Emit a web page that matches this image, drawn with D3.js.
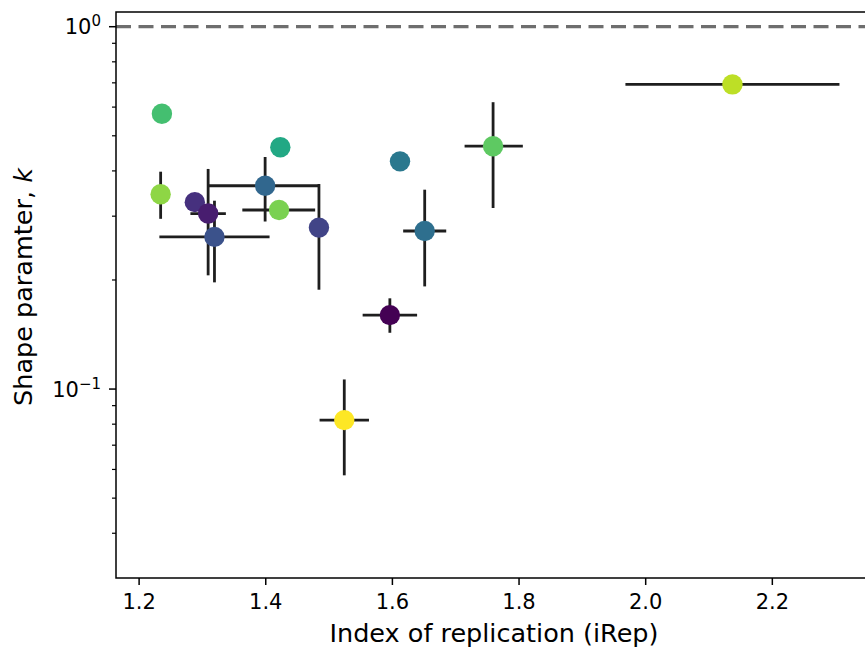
<!DOCTYPE html>
<html>
<head>
  <meta charset="utf-8">
  <script src="https://d3js.org/d3.v7.min.js"></script>
  <style>
    body { margin: 0; background: #fff; }
    text { font-family: "DejaVu Sans", sans-serif; fill: #000; }
  </style>
</head>
<body>
<script>
  "use strict";
  // index of replication (x) with error range, null = no bar
  var iRep   = [1.236, 1.234, 1.288, 1.309, 1.319, 1.399, 1.421, 1.423, 1.484, 1.596, 1.524, 1.612, 1.651, 1.759, 2.137];
  var iRepLo = [null,  null,  null,  1.281, 1.232, 1.309, 1.363, null,  null,  1.553, 1.485, null,  1.617, 1.714, 1.968];
  var iRepHi = [null,  null,  null,  1.337, 1.406, 1.484, 1.478, null,  null,  1.639, 1.563, null,  1.685, 1.806, 2.306];
  // shape parameter k (y, log) with error range
  var shapeK = [0.575, 0.345, 0.328, 0.305, 0.263, 0.364, 0.312, 0.465, 0.279, 0.160, 0.0821, 0.425, 0.273, 0.468, 0.693];
  var kLo    = [null,  0.295, null,  0.206, 0.197, 0.290, null,  null,  0.188, 0.143, 0.0578, null,  0.192, 0.316, null];
  var kHi    = [null,  0.398, null,  0.405, 0.331, 0.437, null,  null,  0.368, 0.178, 0.1063, null,  0.355, 0.619, null];
  // colour value for each point (viridis)
  var colourVal = [0.70, 0.83, 0.14, 0.08, 0.25, 0.33, 0.80, 0.60, 0.20, 0.0, 1.0, 0.40, 0.36, 0.75, 0.90];

  var xTicks = [1.2, 1.4, 1.6, 1.8, 2.0, 2.2];

  function drawChart() {
    var W = 865, H = 650;
    var pLeft = 116, pRight = 872, pTop = 12, pBottom = 578;

    var svg = d3.select("body").append("svg")
        .attr("width", W)
        .attr("height", H);

    var x = d3.scaleLinear().domain([1.1635, 2.3574]).range([pLeft, pRight]);
    var y = d3.scaleLog().domain([0.0301, 1.098]).range([pBottom, pTop]);

    // reference line at k = 1
    svg.append("line")
        .attr("x1", pLeft).attr("x2", pRight)
        .attr("y1", y(1)).attr("y2", y(1))
        .attr("stroke", "#6e6e6e")
        .attr("stroke-width", 3.2)
        .attr("stroke-dasharray", "15,7.5");

    var pts = iRep.map(function(d, i) { return i; });

    var eb = svg.append("g").attr("stroke", "#1e1e1e").attr("stroke-width", 2.8);
    eb.selectAll(".hbar")
        .data(pts.filter(function(i) { return iRepLo[i] != null; }))
        .enter().append("line")
        .attr("x1", function(i) { return x(iRepLo[i]); })
        .attr("x2", function(i) { return x(iRepHi[i]); })
        .attr("y1", function(i) { return y(shapeK[i]); })
        .attr("y2", function(i) { return y(shapeK[i]); });
    eb.selectAll(".vbar")
        .data(pts.filter(function(i) { return kLo[i] != null; }))
        .enter().append("line")
        .attr("x1", function(i) { return x(iRep[i]); })
        .attr("x2", function(i) { return x(iRep[i]); })
        .attr("y1", function(i) { return y(kLo[i]); })
        .attr("y2", function(i) { return y(kHi[i]); });

    svg.selectAll(".dot")
        .data(pts)
        .enter().append("circle")
        .attr("cx", function(i) { return x(iRep[i]); })
        .attr("cy", function(i) { return y(shapeK[i]); })
        .attr("r", 10.2)
        .attr("fill", function(i) { return d3.interpolateViridis(colourVal[i]); });

    // frame
    svg.append("rect")
        .attr("x", pLeft).attr("y", pTop)
        .attr("width", pRight - pLeft).attr("height", pBottom - pTop)
        .attr("fill", "none")
        .attr("stroke", "#000")
        .attr("stroke-width", 1.5);

    // x axis
    var xAxis = svg.append("g");
    xTicks.forEach(function(t) {
      xAxis.append("line")
          .attr("x1", x(t)).attr("x2", x(t))
          .attr("y1", pBottom).attr("y2", pBottom + 7)
          .attr("stroke", "#000").attr("stroke-width", 1.5);
      xAxis.append("text")
          .attr("x", x(t)).attr("y", 609)
          .attr("text-anchor", "middle")
          .attr("font-size", 21)
          .text(t.toFixed(1));
    });

    // y axis, log ticks
    var yAxis = svg.append("g");
    var majors = [0.1, 1];
    var minors = [];
    [0.01, 0.1].forEach(function(dec) {
      for (var m = 2; m <= 9; m++) {
        var v = m * dec;
        if (v >= y.domain()[0] && v <= y.domain()[1]) minors.push(v);
      }
    });
    minors.forEach(function(v) {
      yAxis.append("line")
          .attr("x1", pLeft).attr("x2", pLeft - 4)
          .attr("y1", y(v)).attr("y2", y(v))
          .attr("stroke", "#000").attr("stroke-width", 1.2);
    });
    majors.forEach(function(v) {
      yAxis.append("line")
          .attr("x1", pLeft).attr("x2", pLeft - 7)
          .attr("y1", y(v)).attr("y2", y(v))
          .attr("stroke", "#000").attr("stroke-width", 1.5);
      var t = yAxis.append("text")
          .attr("x", pLeft - 15).attr("y", y(v) + 7.5)
          .attr("text-anchor", "end")
          .attr("font-size", 21);
      t.append("tspan").text("10");
      t.append("tspan")
          .attr("dy", -8)
          .attr("font-size", 15)
          .text(v === 1 ? "0" : "\u22121");
    });

    // axis labels
    svg.append("text")
        .attr("x", (pLeft + pRight) / 2)
        .attr("y", 642)
        .attr("text-anchor", "middle")
        .attr("font-size", 25.5)
        .text("Index of replication (iRep)");

    var yl = svg.append("text")
        .attr("transform", "translate(32,287) rotate(-90)")
        .attr("text-anchor", "middle")
        .attr("font-size", 25.5);
    yl.append("tspan").text("Shape paramter, ");
    yl.append("tspan").attr("font-style", "italic").text("k");
  }

  drawChart();
</script>
</body>
</html>
